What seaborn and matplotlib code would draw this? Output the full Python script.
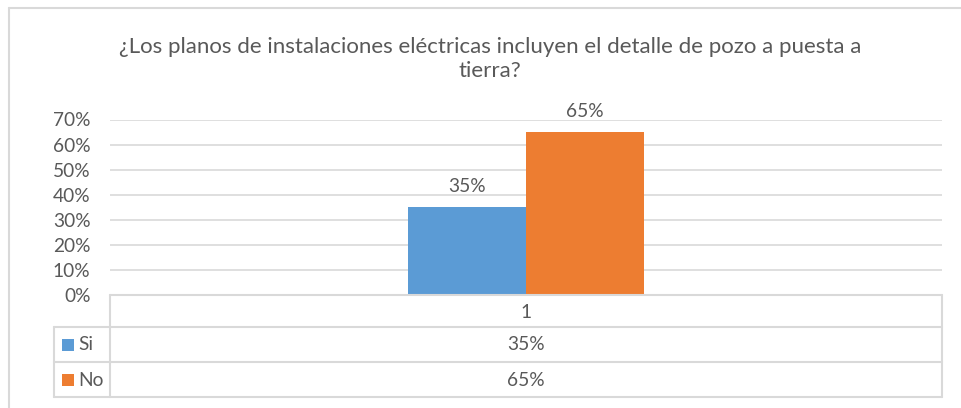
import matplotlib
matplotlib.use("Agg")
import matplotlib.pyplot as plt
import seaborn as sns
import pandas as pd
import numpy as np

# ---- data ----
categories = ["1"]
series = ["Si", "No"]
si_values = [0.35]
no_values = [0.65]
y_ticks = [0.0, 0.1, 0.2, 0.3, 0.4, 0.5, 0.6, 0.7]
title = "¿Los planos de instalaciones eléctricas incluyen el detalle de pozo a puesta a\ntierra?"
colors = {"Si": "#5B9BD5", "No": "#ED7D31"}

sns.set_theme(style="white")
plt.rcParams["font.family"] = ["Lato", "DejaVu Sans"]

TXT = "#595959"
GRID = "#D9D9D9"
W, H = 961, 408
FS = 13.8

df = pd.DataFrame({
    "categoria": categories * 2,
    "serie": ["Si"] * len(categories) + ["No"] * len(categories),
    "valor": si_values + no_values,
})

fig = plt.figure(figsize=(W / 100, H / 100), dpi=100)
fig.patch.set_facecolor("white")

ax = fig.add_axes([110 / W, 1 - 295 / H, 832 / W, 175.5 / H])
sns.barplot(data=df, x="categoria", y="valor", hue="serie", hue_order=series,
            palette=colors, width=0.284, saturation=1, legend=False, ax=ax,
            linewidth=0, zorder=3)
ax.set_xlim(-0.5, 0.5)
ax.set_ylim(0, 0.7)
ax.set_yticks(y_ticks)
ax.set_yticklabels([f"{t*100:.0f}%" for t in y_ticks], color=TXT, fontsize=FS)
ax.tick_params(axis="y", length=0, pad=14)
ax.set_xticks([])
ax.set_xlabel("")
ax.set_ylabel("")
ax.yaxis.grid(True, color=GRID, linewidth=1.2, zorder=0)
ax.set_axisbelow(True)
for s in ax.spines.values():
    s.set_visible(False)
for cont in ax.containers:
    ax.bar_label(cont, labels=[f"{v*100:.0f}%" for v in cont.datavalues],
                 padding=9, color=TXT, fontsize=FS)

# overlay in pixel coordinates for frame, title and data table
ov = fig.add_axes([0, 0, 1, 1])
ov.set_xlim(0, W)
ov.set_ylim(H, 0)
ov.axis("off")
ov.patch.set_alpha(0)

# outer chart frame
ov.plot([8.5, 8.5], [7.5, H], color=GRID, lw=1.5)
ov.plot([8.5, W], [7.5, 7.5], color=GRID, lw=1.5)

ov.text(490, 59, title, ha="center", va="center", color=TXT, fontsize=16,
        linespacing=1.3)

# data table
lw = 1.5
ov.plot([110, 942], [295, 295], color=GRID, lw=lw)
for y in (327, 362, 397):
    ov.plot([54, 942], [y, y], color=GRID, lw=lw)
ov.plot([54, 54], [327, 397], color=GRID, lw=lw)
ov.plot([110, 110], [295, 397], color=GRID, lw=lw)
ov.plot([942, 942], [295, 397], color=GRID, lw=lw)

cx = 526
ov.text(cx, 312, categories[0], ha="center", va="center", color=TXT, fontsize=FS)
row_vals = {"Si": si_values, "No": no_values}
for name, yc in zip(series, (345, 380)):
    ov.add_patch(plt.Rectangle((62, yc - 6), 11.5, 11.5, color=colors[name], lw=0))
    ov.text(78, yc, name, ha="left", va="center", color=TXT, fontsize=FS)
    ov.text(cx, yc, f"{row_vals[name][0]*100:.0f}%", ha="center", va="center",
            color=TXT, fontsize=FS)

fig.savefig("out.png", dpi=100, facecolor="white")
